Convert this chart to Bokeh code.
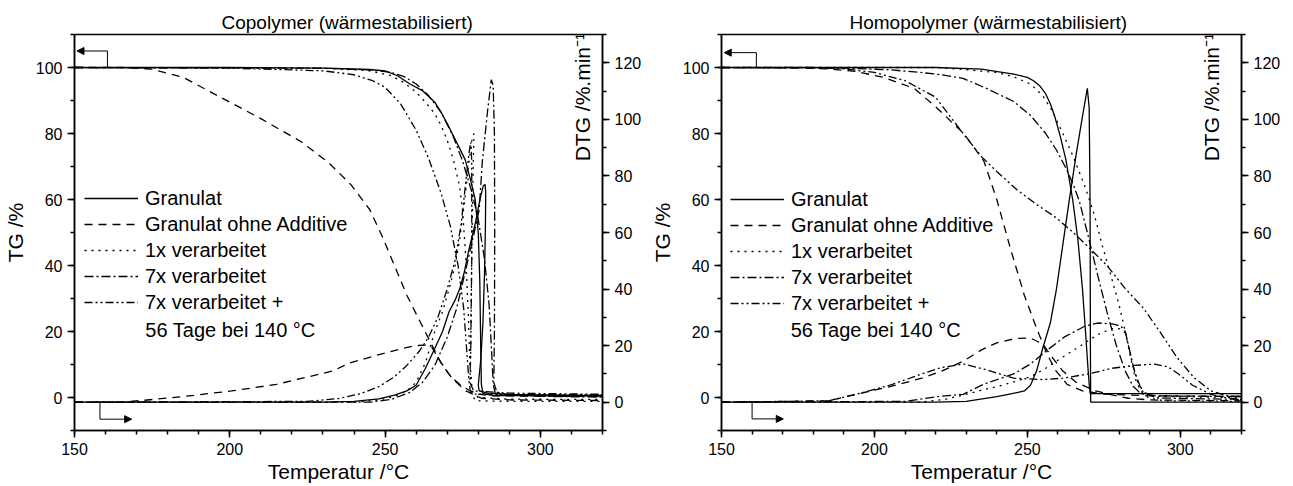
import numpy as np
from bokeh.plotting import figure
from bokeh.models import (Range1d, LinearAxis, SingleIntervalTicker, Legend, LegendItem,
                          Label, Arrow, NormalHead)
from bokeh.layouts import row
from bokeh.embed import file_html
from bokeh.resources import INLINE

# ---------------- data ----------------
series_labels = ["Granulat", "Granulat ohne Additive", "1x verarbeitet",
                 "7x verarbeitet", "7x verarbeitet +"]
extra_label = "56 Tage bei 140 °C"
panel_titles = ["Copolymer (wärmestabilisiert)", "Homopolymer (wärmestabilisiert)"]
x_label = "Temperatur /°C"
tg_label = "TG /%"
dtg_label = "DTG /%.min⁻¹"

# ---- Copolymer: TG (%) ----
co_tg_granulat_T = [150, 200, 230, 245, 250, 254, 258, 262, 266, 268, 270, 271.6, 274, 275.8, 277.5, 279, 280, 280.5, 280.8, 281, 281.5, 285, 320]
co_tg_granulat = [100, 100, 99.8, 99.4, 99, 97.5, 95, 93, 89.5, 86.5, 83, 80, 75.5, 72, 66, 60, 50, 35, 15, 4, 1.2, 0.6, 0.4]
co_tg_ohne_T = [150, 165, 175, 185, 197, 210, 223, 232, 239, 245, 249, 253, 257, 261, 265, 268, 271, 274, 277, 280, 285, 300, 320]
co_tg_ohne = [100, 100, 99.5, 97, 91, 84.5, 77.5, 71, 64.5, 57, 49, 40, 31, 23.5, 16, 10.5, 6.5, 4, 2.2, 1, 0.5, 0.4, 0.3]
co_tg_1x_T = [150, 230, 245, 252, 256, 260, 263, 266, 268, 270, 272, 274, 275, 276, 276.8, 277.3, 278, 280, 290, 320]
co_tg_1x = [100, 99.8, 99, 97.5, 95.5, 92.5, 89.5, 86, 82.5, 78, 72, 64, 56, 42, 25, 10, 2, 0, -0.5, -0.6]
co_tg_7x_T = [150, 230, 245, 252, 256, 260, 264, 268, 272, 275, 278, 280, 282, 283.5, 284.3, 284.8, 285.5, 290, 320]
co_tg_7x = [100, 99.8, 99.3, 98.5, 97.3, 95, 91.5, 86.5, 79, 71.5, 62, 54, 42, 28, 14, 4, 1.2, 0.8, 0.6]
co_tg_56d_T = [150, 200, 230, 240, 246, 250, 255, 260, 264, 268, 271, 273.5, 275.3, 276.3, 277, 277.5, 279, 290, 320]
co_tg_56d = [100, 99.8, 99, 97.8, 96, 94, 89, 81, 72.5, 62, 52, 40, 27, 14, 5, 1.5, 1, 0.9, 0.8]

# ---- Copolymer: DTG (%/min) ----
co_dtg_granulat_T = [150, 230, 240, 248, 253, 257, 260, 263, 266, 268.5, 270.6, 272.5, 274, 275.5, 277, 279, 280.6, 281.6, 282.2, 282.4, 282.3, 282, 281.5, 280.8, 280, 280.3, 283, 290, 305, 320]
co_dtg_granulat = [0, 0, 0.3, 1.2, 2.5, 4, 6, 12, 19, 25, 32, 36, 40, 46, 54, 63, 72, 76.5, 77, 74, 62, 45, 28, 15, 6, 4, 3.2, 2.8, 2.5, 2.4]
co_dtg_ohne_T = [150, 165, 172.6, 185, 200.6, 215, 223, 233, 239, 247, 255.5, 259.7, 263, 265, 268, 271.6, 276, 281, 290, 320]
co_dtg_ohne = [0, 0, 0.7, 2, 4, 6.3, 8.4, 11, 14, 16.5, 19, 20, 20.2, 19.5, 14, 8.4, 4, 1.4, 0.8, 0.6]
co_dtg_1x_T = [150, 240, 248, 253, 257, 260, 263, 266, 268.5, 270.6, 272.5, 274, 275.5, 277, 278, 278.6, 278.4, 278, 277.7, 277.5, 278, 279, 290, 320]
co_dtg_1x = [0, 0, 0.8, 2, 4, 7, 14, 25, 32, 40, 48, 57.5, 70, 85, 93, 95, 85, 60, 35, 12, 3, 0.5, 0.3, 0.3]
co_dtg_7x_T = [150, 245, 252, 258, 262, 266, 270, 273, 276, 278.5, 280.3, 281.3, 283, 284.2, 284.8, 285.2, 285.3, 285.2, 285, 286, 290, 305, 320]
co_dtg_7x = [0, 0, 1, 3.5, 7, 13, 23, 33, 47, 59, 68, 85, 103, 114, 112, 95, 60, 25, 7, 3.5, 2.5, 2, 1.8]
co_dtg_56d_T = [150, 225, 235, 242, 248, 253, 257, 261, 264, 267, 270, 272.5, 274.5, 276, 277, 277.6, 277.9, 277.9, 277.6, 277.3, 278.5, 290, 305, 320]
co_dtg_56d = [0, 0.3, 1.3, 3, 5.5, 9, 13, 18, 23, 30, 40, 50, 63, 78, 88, 92, 85, 50, 20, 7, 4, 3.2, 3, 2.8]

# ---- Homopolymer: TG (%) ----
ho_tg_granulat_T = [150, 220, 235, 245.5, 250, 252, 254, 256, 257.5, 259, 260.8, 262.6, 264.8, 266.5, 268, 269, 269.8, 270.3, 270.6, 280, 300, 320]
ho_tg_granulat = [100, 100, 99.5, 98, 97, 96, 94.5, 92, 89, 85, 79, 72, 60, 48, 33, 20, 9, 3, 1.2, 1.2, 1.2, 1.2]
ho_tg_ohne_T = [150, 175, 185, 194, 203, 213, 220.6, 229.4, 235.8, 240, 244.5, 249, 253, 256.5, 259.4, 263, 268, 275, 290, 320]
ho_tg_ohne = [100, 99.9, 99.6, 98.8, 97, 93.7, 87.6, 79.8, 71.6, 60, 45, 31, 21, 13, 8, 4, 2, 1, 0.5, 0.3]
ho_tg_1x_T = [150, 220, 229, 240, 246, 251, 255, 258, 261.6, 265, 269, 272, 274.5, 277, 280, 282, 284, 286, 288, 292, 320]
ho_tg_1x = [100, 100, 99.4, 98.5, 97, 95, 91.5, 87, 80, 73, 63.5, 55, 46, 38, 28, 20, 11, 5, 1.5, 0.3, 0]
ho_tg_7x_T = [150, 190, 205, 215, 222, 229, 237, 245.5, 251, 256, 259.5, 262.6, 265, 267, 270.3, 273, 276, 279, 282, 284.5, 287, 292, 320]
ho_tg_7x = [100, 99.8, 99.3, 98.5, 97.8, 96.7, 93.5, 89.7, 85.5, 80, 75, 69.5, 64.5, 59.5, 47.4, 37, 26, 16, 8, 3.5, 1.2, 0.5, 0.3]
ho_tg_56d_T = [150, 180, 190, 200, 210, 220, 229.4, 235, 240, 246.5, 253, 259.4, 265, 270.3, 276, 282, 288, 294, 299, 304.5, 310, 315.5, 320]
ho_tg_56d = [100, 100, 99.6, 98.5, 96, 91, 79.5, 73, 68.5, 63, 58.5, 54.5, 50, 45.3, 40, 33, 27, 19, 12, 6, 2, 0.5, 0.3]

# ---- Homopolymer: DTG (%/min) ----
ho_dtg_granulat_T = [150, 220, 230, 240, 245, 249, 251, 253, 255, 257.5, 259.5, 261.5, 263.5, 266, 268, 269.6, 270.2, 270.5, 270.6, 270.7, 280, 300, 320]
ho_dtg_granulat = [0, 0, 0.3, 2, 3, 4, 6, 11, 19, 28, 40, 55, 70, 88, 101, 111, 104, 70, 20, 0, 0, 0, 0]
ho_dtg_ohne_T = [150, 185, 194, 205, 215.5, 222, 229, 235, 240, 246, 251, 255, 258, 261.6, 266, 272.3, 278, 283, 290, 320]
ho_dtg_ohne = [0, 0.5, 2.8, 5.5, 8.5, 11, 14.5, 18.5, 21, 22.5, 22.7, 20.6, 16, 11, 7, 4, 2.5, 1.4, 0.8, 0.5]
ho_dtg_1x_T = [150, 215, 223, 229, 235.8, 240, 245, 251, 256, 261.6, 266, 270.3, 274, 277.7, 280, 282, 283.5, 285.2, 287, 289.7, 295, 320]
ho_dtg_1x = [0, 0, 1, 2.5, 4.5, 5.5, 7, 9, 12, 16, 19, 22, 24.5, 26, 26, 24.5, 18, 8.5, 4, 1.4, 0.5, 0.3]
ho_dtg_7x_T = [150, 210, 220.6, 229, 235.8, 245.5, 251, 256, 262, 269, 273, 277.7, 280.5, 282, 283.5, 285, 287.4, 292, 320]
ho_dtg_7x = [0, 0.3, 2, 2.8, 6.4, 10, 13.5, 18, 23, 27, 28, 27.7, 27, 25, 18, 11, 4, 1.5, 1]
ho_dtg_56d_T = [150, 185, 194, 205, 215.5, 222, 229.4, 235.8, 245.5, 255, 261.6, 270, 277.7, 285, 291.6, 296, 299.4, 304, 310, 315, 320]
ho_dtg_56d = [0, 0.5, 2.8, 6, 10, 12.3, 13.5, 11.7, 8.5, 8, 8.5, 10, 12, 13, 13.5, 12.5, 10, 6, 2.8, 1.5, 1]

co_tg = [(co_tg_granulat_T, co_tg_granulat), (co_tg_ohne_T, co_tg_ohne), (co_tg_1x_T, co_tg_1x),
         (co_tg_7x_T, co_tg_7x), (co_tg_56d_T, co_tg_56d)]
co_dtg = [(co_dtg_granulat_T, co_dtg_granulat), (co_dtg_ohne_T, co_dtg_ohne), (co_dtg_1x_T, co_dtg_1x),
          (co_dtg_7x_T, co_dtg_7x), (co_dtg_56d_T, co_dtg_56d)]
ho_tg = [(ho_tg_granulat_T, ho_tg_granulat), (ho_tg_ohne_T, ho_tg_ohne), (ho_tg_1x_T, ho_tg_1x),
         (ho_tg_7x_T, ho_tg_7x), (ho_tg_56d_T, ho_tg_56d)]
ho_dtg = [(ho_dtg_granulat_T, ho_dtg_granulat), (ho_dtg_ohne_T, ho_dtg_ohne), (ho_dtg_1x_T, ho_dtg_1x),
          (ho_dtg_7x_T, ho_dtg_7x), (ho_dtg_56d_T, ho_dtg_56d)]

# ---------------- styling ----------------
FONT = "Liberation Sans"
DASHES = ["solid", "8 6", "2 5", "9 3 2 3", "8 3 2 3 2 3"]
LW = 1.3


def style_axis(ax):
    ax.axis_line_width = 1.5
    ax.axis_line_color = "black"
    ax.major_tick_in = 0
    ax.major_tick_out = 7
    ax.minor_tick_in = 0
    ax.minor_tick_out = 4
    ax.major_tick_line_width = 1.5
    ax.minor_tick_line_width = 1.5
    ax.major_tick_line_color = "black"
    ax.minor_tick_line_color = "black"
    ax.major_label_text_font = FONT
    ax.major_label_text_font_size = "16px"
    ax.major_label_text_color = "black"
    ax.major_label_standoff = 5
    ax.axis_label_text_font = FONT
    ax.axis_label_text_font_size = "21px"
    ax.axis_label_text_font_style = "normal"
    ax.axis_label_text_color = "black"
    ax.axis_label_standoff = 6


def make_panel(title, tg, dtg, width, border_left, border_right, border_bottom, title_offset,
               legend_x, legend_y, dtg_lab_x, extra_x, arrow_tg, arrow_dtg):
    p = figure(width=width, height=486, x_range=Range1d(150, 320), y_range=Range1d(-10, 110),
               output_backend="svg", toolbar_location=None,
               min_border_left=border_left, min_border_right=border_right,
               min_border_top=34, min_border_bottom=border_bottom)
    p.extra_y_ranges = {"dtg": Range1d(-10, 130)}
    p.xgrid.visible = False
    p.ygrid.visible = False
    p.outline_line_color = "black"
    p.outline_line_width = 1.5
    p.background_fill_color = "white"
    p.border_fill_color = "white"

    p.title.text = title
    p.title.text_font = FONT
    p.title.text_font_size = "19px"
    p.title.text_font_style = "normal"
    p.title.text_color = "black"
    p.title.align = "left"
    p.title.offset = title_offset
    p.title.standoff = 4

    p.xaxis[0].ticker = SingleIntervalTicker(interval=50, num_minor_ticks=5)
    p.yaxis[0].ticker = SingleIntervalTicker(interval=20, num_minor_ticks=2)
    p.xaxis[0].axis_label = x_label
    p.yaxis[0].axis_label = tg_label
    style_axis(p.xaxis[0])
    style_axis(p.yaxis[0])
    p.xaxis[0].axis_label_standoff = 2

    ax2 = LinearAxis(y_range_name="dtg", ticker=SingleIntervalTicker(interval=20, num_minor_ticks=2))
    style_axis(ax2)
    p.add_layout(ax2, "right")

    items = []
    for i, ((tx, ty), (dx, dy)) in enumerate(zip(tg, dtg)):
        r = p.line(tx, ty, line_color="black", line_width=LW, line_dash=DASHES[i])
        p.line(dx, dy, line_color="black", line_width=LW, line_dash=DASHES[i], y_range_name="dtg")
        items.append(LegendItem(label=series_labels[i], renderers=[r]))

    leg = Legend(items=items, location=(legend_x, legend_y), glyph_width=54, glyph_height=26,
                 label_height=26, spacing=0, padding=0, margin=0, label_standoff=7,
                 border_line_color=None, background_fill_alpha=0,
                 label_text_font=FONT, label_text_font_size="20px", label_text_color="black")
    p.add_layout(leg)

    p.add_layout(Label(x=extra_x, y=20.6, text=extra_label, text_font=FONT, text_font_size="20px",
                       text_baseline="middle", text_align="left", text_color="black"))
    p.add_layout(Label(x=dtg_lab_x, y=91, text=dtg_label, angle=np.pi / 2, text_font=FONT,
                       text_font_size="21px", text_align="center", text_baseline="middle",
                       text_color="black"))

    # arrows indicating which axis belongs to which curve family
    (ax_v, ay0, ay1, ax_tip) = arrow_tg
    p.add_layout(Arrow(x_start=ax_v, y_start=ay0, x_end=ax_v, y_end=ay1, end=None,
                       line_color="black", line_width=1))
    p.add_layout(Arrow(x_start=ax_v, y_start=ay1, x_end=ax_tip, y_end=ay1,
                       end=NormalHead(size=7, fill_color="black", line_color="black"),
                       line_color="black", line_width=1))
    (bx_v, by0, by1, bx_tip) = arrow_dtg
    p.add_layout(Arrow(x_start=bx_v, y_start=by0, x_end=bx_v, y_end=by1, end=None,
                       line_color="black", line_width=1, y_range_name="dtg"))
    p.add_layout(Arrow(x_start=bx_v, y_start=by1, x_end=bx_tip, y_end=by1,
                       end=NormalHead(size=7, fill_color="black", line_color="black"),
                       line_color="black", line_width=1, y_range_name="dtg"))
    return p


p1 = make_panel(panel_titles[0], co_tg, co_dtg, width=647, border_left=73, border_right=45,
                border_bottom=54, title_offset=147, legend_x=10, legend_y=115,
                dtg_lab_x=313.5, extra_x=172.8,
                arrow_tg=(160.6, 100, 105, 150.8), arrow_dtg=(158.2, 0, -6, 168.4))
p2 = make_panel(panel_titles[1], ho_tg, ho_dtg, width=646, border_left=67, border_right=52,
                border_bottom=56, title_offset=128, legend_x=9, legend_y=114,
                dtg_lab_x=310.3, extra_x=172.6,
                arrow_tg=(161.4, 100, 104.5, 150.9), arrow_dtg=(160, 0, -5.9, 170.2))

layout = row(p1, p2)
open("out.html", "w").write(file_html(layout, INLINE))
